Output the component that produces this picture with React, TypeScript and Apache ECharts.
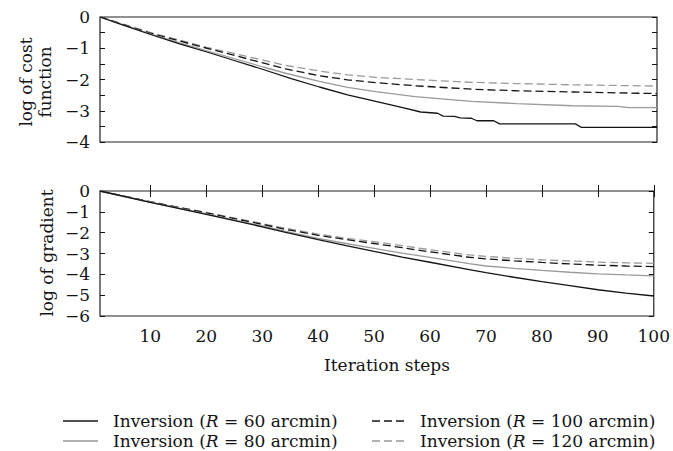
import React, { useEffect, useRef } from "react";
import * as echarts from "echarts";

const FONT = '"DejaVu Serif", "Liberation Serif", serif';
const BLACK = "#141414";
const GRAY = "#9a9a9a";

const seriesNames = [
  "Inversion (R = 60 arcmin)",
  "Inversion (R = 80 arcmin)",
  "Inversion (R = 100 arcmin)",
  "Inversion (R = 120 arcmin)",
];

const xTicks = [10, 20, 30, 40, 50, 60, 70, 80, 90, 100];

// log of cost function  [iteration, value]
const costR60 = [
  [1, 0], [5, -0.25], [10, -0.56], [15, -0.85], [20, -1.12], [25, -1.4], [30, -1.68],
  [35, -1.97], [40, -2.24], [45, -2.49], [50, -2.7], [55, -2.91], [58, -3.04], [61, -3.08],
  [62, -3.17], [64, -3.18], [65, -3.23], [67, -3.24], [68, -3.32], [71, -3.32], [72, -3.42],
  [85.5, -3.42], [86.5, -3.53], [100, -3.53],
];
const costR80 = [
  [1, 0], [10, -0.55], [20, -1.08], [30, -1.6], [34, -1.8], [40, -2.06], [45, -2.25],
  [50, -2.39], [57, -2.55], [67, -2.7], [75, -2.77], [85, -2.84], [93, -2.86], [95, -2.9], [100, -2.9],
];
const costR100 = [
  [1, 0], [10, -0.52], [20, -1.0], [30, -1.47], [34, -1.66], [40, -1.88], [45, -2.01],
  [50, -2.1], [57, -2.2], [67, -2.31], [75, -2.36], [85, -2.4], [100, -2.45],
];
const costR120 = [
  [1, 0], [10, -0.5], [20, -0.97], [30, -1.38], [34, -1.55], [40, -1.73], [45, -1.85],
  [50, -1.93], [57, -2.0], [67, -2.09], [75, -2.13], [85, -2.17], [100, -2.21],
];

// log of gradient  [iteration, value]
const gradR60 = [
  [1, 0], [10, -0.55], [20, -1.12], [30, -1.72], [34, -1.97], [40, -2.33], [45, -2.62],
  [50, -2.9], [55, -3.17], [60, -3.42], [67, -3.77], [70, -3.92], [75, -4.14], [80, -4.35],
  [85, -4.54], [90, -4.74], [95, -4.9], [100, -5.04],
];
const gradR80 = [
  [1, 0], [10, -0.54], [20, -1.1], [30, -1.68], [34, -1.93], [40, -2.27], [45, -2.52],
  [50, -2.75], [55, -2.98], [60, -3.19], [67, -3.49], [70, -3.6], [75, -3.71], [80, -3.81],
  [85, -3.9], [90, -3.98], [95, -4.03], [100, -4.07],
];
const gradR100 = [
  [1, 0], [10, -0.52], [20, -1.05], [30, -1.6], [34, -1.83], [40, -2.13], [45, -2.33],
  [50, -2.52], [55, -2.72], [60, -2.92], [67, -3.18], [70, -3.26], [75, -3.35], [80, -3.43],
  [85, -3.5], [90, -3.56], [95, -3.6], [100, -3.63],
];
const gradR120 = [
  [1, 0], [10, -0.51], [20, -1.03], [30, -1.56], [34, -1.78], [40, -2.07], [45, -2.27],
  [50, -2.43], [55, -2.62], [60, -2.82], [67, -3.07], [70, -3.14], [75, -3.23], [80, -3.3],
  [85, -3.36], [90, -3.41], [95, -3.45], [100, -3.47],
];

const colors = [BLACK, GRAY, BLACK, GRAY];
const dashes: (number[] | null)[] = [null, null, [8, 4], [8, 4]];

const fmtNum = (v: number) => (v < 0 ? "\u2212" + Math.abs(v) : String(v));

export default function App() {
  const ref = useRef<HTMLDivElement>(null);
  useEffect(() => {
    if (!ref.current) return;
    const chart = echarts.init(ref.current, undefined, { renderer: "svg" });
    const labelStyle = { fontFamily: FONT, fontSize: 17, color: BLACK };
    const tickLine = { color: BLACK, width: 1 };
    const costData = [costR60, costR80, costR100, costR120];
    const gradData = [gradR60, gradR80, gradR100, gradR120];
    const mkSeries = (data: number[][], i: number, xi: number, yi: number) => ({
      name: seriesNames[i],
      type: "line",
      xAxisIndex: xi,
      yAxisIndex: yi,
      data,
      symbol: "none",
      showSymbol: false,
      lineStyle: { color: colors[i], width: 1.3, type: dashes[i] ? dashes[i] : "solid" },
      itemStyle: { color: colors[i] },
      z: 10 - i,
    });

    // legend drawn as graphic elements: two columns, two rows
    const legendPos = [
      { lx: 63, tx: 113, y: 421 },
      { lx: 63, tx: 113, y: 441 },
      { lx: 372, tx: 420, y: 421 },
      { lx: 372, tx: 420, y: 441 },
    ];
    const legendGraphics: any[] = [];
    seriesNames.forEach((name, i) => {
      const p = legendPos[i];
      legendGraphics.push({
        type: "line",
        shape: { x1: p.lx, y1: p.y, x2: p.lx + 35, y2: p.y },
        style: { stroke: colors[i], lineWidth: 1.3, lineDash: dashes[i] || undefined },
      });
      legendGraphics.push({
        type: "text",
        x: p.tx,
        y: p.y,
        style: {
          text: name.replace("(R", "({i|R}"),
          fontFamily: FONT,
          fontSize: 17,
          lineHeight: 16,
          fill: BLACK,
          align: "left",
          verticalAlign: "middle",
          rich: { i: { fontStyle: "italic", fontFamily: FONT, fontSize: 17, lineHeight: 16, fill: BLACK } },
        },
      });
    });

    const option: any = {
      animation: false,
      backgroundColor: "#ffffff",
      grid: [
        { left: 100, top: 17, width: 557, height: 125, show: true, borderColor: "#222", borderWidth: 1.2, backgroundColor: "transparent" },
        { left: 100, top: 191, width: 557, height: 125, show: true, borderColor: "#222", borderWidth: 1.2, backgroundColor: "transparent" },
      ],
      xAxis: [
        { gridIndex: 0, type: "value", min: 1, max: 100, axisLine: { show: false }, axisTick: { show: false }, axisLabel: { show: false }, splitLine: { show: false } },
        {
          gridIndex: 1, type: "value", min: 1, max: 100, position: "bottom",
          axisLine: { show: false },
          axisTick: { show: true, inside: true, length: 6, customValues: xTicks, lineStyle: tickLine },
          axisLabel: { customValues: xTicks, margin: 11, ...labelStyle },
          splitLine: { show: false },
        },
        {
          gridIndex: 1, type: "value", min: 1, max: 100, position: "top",
          axisLine: { show: false },
          axisTick: { show: true, inside: true, length: 6, customValues: xTicks, lineStyle: tickLine },
          axisLabel: { show: false },
          splitLine: { show: false },
        },
      ],
      yAxis: [
        {
          gridIndex: 0, type: "value", min: -4, max: 0, interval: 0.5, position: "left",
          axisLine: { show: false },
          axisTick: { show: true, inside: true, length: 5, lineStyle: tickLine },
          axisLabel: { margin: 10, formatter: (v: number) => (Math.abs(v - Math.round(v)) < 1e-9 ? fmtNum(v) : ""), ...labelStyle },
          splitLine: { show: false },
        },
        {
          gridIndex: 0, type: "value", min: -4, max: 0, interval: 0.5, position: "right",
          axisLine: { show: false },
          axisTick: { show: true, inside: true, length: 5, lineStyle: tickLine },
          axisLabel: { show: false },
          splitLine: { show: false },
        },
        {
          gridIndex: 1, type: "value", min: -6, max: 0, interval: 1, position: "left",
          axisLine: { show: false },
          axisTick: { show: true, inside: true, length: 5, lineStyle: tickLine },
          axisLabel: { margin: 10, formatter: (v: number) => fmtNum(v), ...labelStyle },
          splitLine: { show: false },
        },
        {
          gridIndex: 1, type: "value", min: -6, max: 0, interval: 1, position: "right",
          axisLine: { show: false },
          axisTick: { show: true, inside: true, length: 5, lineStyle: tickLine },
          axisLabel: { show: false },
          splitLine: { show: false },
        },
      ],
      graphic: [
        {
          type: "text", x: 35, y: 82, rotation: Math.PI / 2,
          style: { text: "log of cost\nfunction", fontFamily: FONT, fontSize: 17, lineHeight: 19, fill: BLACK, align: "center", verticalAlign: "middle" },
        },
        {
          type: "text", x: 47, y: 253, rotation: Math.PI / 2,
          style: { text: "log of gradient", fontFamily: FONT, fontSize: 17, fill: BLACK, align: "center", verticalAlign: "middle" },
        },
        {
          type: "text", x: 387, y: 365,
          style: { text: "Iteration steps", fontFamily: FONT, fontSize: 17, fill: BLACK, align: "center", verticalAlign: "middle" },
        },
        ...legendGraphics,
      ],
      series: [
        ...costData.map((d, i) => mkSeries(d, i, 0, 0)),
        ...gradData.map((d, i) => mkSeries(d, i, 1, 2)),
      ],
    };
    chart.setOption(option);
    return () => chart.dispose();
  }, []);
  return (
    <div
      ref={ref}
      style={{ position: "fixed", left: 0, top: 0, width: 673, height: 451, background: "#fff" }}
    />
  );
}
